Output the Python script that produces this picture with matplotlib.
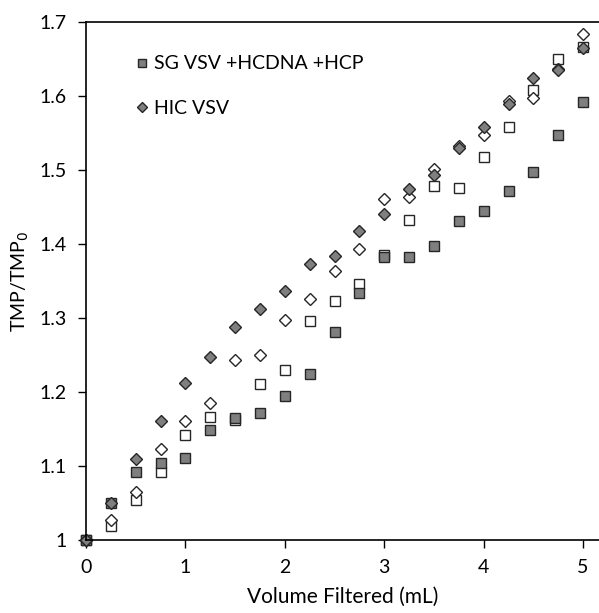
import matplotlib
matplotlib.use('Agg')
import matplotlib.pyplot as plt
from matplotlib.ticker import FuncFormatter

plt.rcParams['font.family'] = ['Lato', 'DejaVu Sans']

volume = [0, 0.25, 0.5, 0.75, 1.0, 1.25, 1.5, 1.75, 2.0, 2.25, 2.5,
          2.75, 3.0, 3.25, 3.5, 3.75, 4.0, 4.25, 4.5, 4.75, 5.0]

# SG VSV +HCDNA +HCP (filled squares) and its open-square companion
sg_filled = [1.0, 1.050, 1.092, 1.104, 1.110, 1.148, 1.165, 1.172, 1.194, 1.224, 1.281,
             1.334, 1.382, 1.383, 1.398, 1.431, 1.445, 1.472, 1.497, 1.548, 1.592]
sg_open = [1.0, 1.018, 1.054, 1.092, 1.141, 1.166, 1.162, 1.211, 1.230, 1.296, 1.323,
           1.346, 1.385, 1.433, 1.478, 1.476, 1.518, 1.559, 1.609, 1.651, 1.667]

# HIC VSV (filled diamonds) and its open-diamond companion
hic_filled = [1.0, 1.050, 1.109, 1.160, 1.212, 1.247, 1.288, 1.312, 1.337, 1.373, 1.384,
              1.418, 1.441, 1.475, 1.494, 1.530, 1.558, 1.590, 1.624, 1.635, 1.665]
hic_open = [1.0, 1.026, 1.064, 1.123, 1.160, 1.185, 1.243, 1.250, 1.297, 1.326, 1.364,
            1.393, 1.461, 1.463, 1.502, 1.533, 1.547, 1.594, 1.597, 1.637, 1.684]

fig = plt.figure(figsize=(5.99, 6.13), dpi=100)
ax = fig.add_axes([0.1436, 0.1196, 0.8564, 0.844])

edge = '#262626'
gray = '#7f7f7f'

ax.plot(volume, sg_open, 's', ms=6.5, mfc='white', mec=edge, mew=1.0, ls='none', clip_on=False)
sq, = ax.plot(volume, sg_filled, 's', ms=6.5, mfc=gray, mec=edge, mew=1.0, ls='none', clip_on=False)
ax.plot(volume, hic_open, 'D', ms=6, mfc='white', mec=edge, mew=1.0, ls='none', clip_on=False)
di, = ax.plot(volume, hic_filled, 'D', ms=6, mfc=gray, mec=edge, mew=1.0, ls='none', clip_on=False)

ax.set_xlim(0, 5.16)
ax.set_ylim(1.0, 1.7)
ax.set_xticks([0, 1, 2, 3, 4, 5])
ax.set_yticks([1.0, 1.1, 1.2, 1.3, 1.4, 1.5, 1.6, 1.7])
ax.yaxis.set_major_formatter(FuncFormatter(lambda v, p: '%g' % round(v, 2)))
ax.tick_params(direction='out', length=6, width=1, labelsize=14, colors='black', pad=8)

ax.spines['right'].set_visible(False)
for s in ['left', 'bottom', 'top']:
    ax.spines[s].set_linewidth(1.2)

ax.set_xlabel('Volume Filtered (mL)', fontsize=15, labelpad=8)
ax.set_ylabel('TMP/TMP$_0$', fontsize=14, labelpad=6)

leg = ax.legend([sq, di], ['SG VSV +HCDNA +HCP', 'HIC VSV'], loc='upper left',
                bbox_to_anchor=(0.075, 0.951), frameon=False, fontsize=14,
                handlelength=1.0, handletextpad=0.1, labelspacing=1.4,
                markerscale=0.9, borderaxespad=0)

fig.savefig('out.png', dpi=100)
